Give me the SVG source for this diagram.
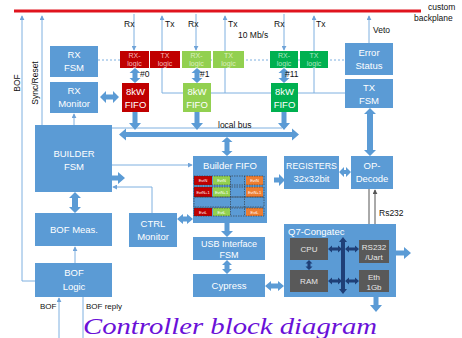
<svg xmlns="http://www.w3.org/2000/svg" width="462" height="338" viewBox="0 0 462 338">
<defs>
<marker id="ah" viewBox="0 0 6 6" refX="5" refY="3" markerWidth="5" markerHeight="5" orient="auto"><path d="M0,0 L6,3 L0,6 z" fill="#6fa3d8"/></marker>
<marker id="ag" viewBox="0 0 6 6" refX="5" refY="3" markerWidth="5" markerHeight="5" orient="auto"><path d="M0,0 L6,3 L0,6 z" fill="#555"/></marker>
</defs>
<style>
.b{fill:#5b9bd5}
.r{fill:#c00000}
.lg{fill:#92d050}
.dg{fill:#00b050}
.or{fill:#ed7d31}
.dk{fill:#595959}
.fat{fill:#5b9bd5}
.nav{fill:#1f3f77}
.t{font-family:"Liberation Sans",Arial,sans-serif;font-size:9.5px;fill:#fff;text-anchor:middle}
.s{font-family:"Liberation Sans",Arial,sans-serif;font-size:7px;fill:#ffd8d8;text-anchor:middle;opacity:.85}
.k{font-family:"Liberation Sans",Arial,sans-serif;font-size:8.5px;fill:#111}
.q{font-family:"Liberation Sans",Arial,sans-serif;font-size:8px;fill:#e8e8e8;text-anchor:middle}
.c{font-family:"Liberation Sans",Arial,sans-serif;font-size:4px;fill:#fff;text-anchor:middle}
.ln{stroke:#7fb0e0;stroke-width:1;fill:none}
.lna{stroke:#7fb0e0;stroke-width:1;fill:none;marker-end:url(#ah)}
.dash{stroke:#333;stroke-width:.6;stroke-dasharray:1.5,1;fill:none}
</style>
<rect width="462" height="338" fill="#fff"/>
<g id="backplane">
<line x1="14" y1="11" x2="421" y2="11" stroke="#e0141e" stroke-width="3"/>
<text class="k" x="428" y="10">custom</text>
<text class="k" x="414" y="21">backplane</text>
</g>
<g id="connectors">
<path class="lna" d="M36,281 H22 V16"/>
<path class="lna" d="M42,125 V16"/>
<path class="lna" d="M134,14 V50"/>
<path class="lna" d="M196,14 V50"/>
<path class="lna" d="M284,14 V50"/>
<path class="lna" d="M162,93 V16"/>
<path class="lna" d="M225,93 V16"/>
<path class="lna" d="M314,93 V16"/>
<path class="ln" d="M162,93 H345"/>
<path class="lna" d="M369,43 V16"/>
<path d="M98,60 H345" stroke="#7fb0e0" stroke-width="1" stroke-dasharray="2,2" fill="none"/>
<path class="ln" d="M112,128 H282"/>
<path class="lna" d="M112,165 H192"/>
<path class="lna" d="M152,213 V187 H113"/>
<path class="lna" d="M74,125 V114"/>
<path class="lna" d="M75,263 V247"/>
<path class="lna" d="M59,338 V298"/>
<path class="ln" d="M83,297 V338"/>
<path d="M369,189 V239" stroke="#555" stroke-width="1" fill="none" marker-end="url(#ag)"/>
<path d="M375,240 V190" stroke="#555" stroke-width="1" fill="none" marker-end="url(#ag)"/>
<polygon class="fat" points="100,97 106,91 106,94.5 113,94.5 113,91 119,97 113,103 113,99.5 106,99.5 106,103"/>
<polygon class="fat" points="135,68 140.5,73 137.5,73 137.5,78 140.5,78 135,83 129.5,78 132.5,78 132.5,73 129.5,73"/>
<polygon class="fat" points="197,68 202.5,73 199.5,73 199.5,78 202.5,78 197,83 191.5,78 194.5,78 194.5,73 191.5,73"/>
<polygon class="fat" points="284,68 289.5,73 286.5,73 286.5,78 289.5,78 284,83 278.5,78 281.5,78 281.5,73 278.5,73"/>
<polygon class="fat" points="132.5,112 137.5,112 137.5,123 141,123 135,130 129,123 132.5,123"/>
<polygon class="fat" points="194.5,112 199.5,112 199.5,123 203,123 197,130 191,123 194.5,123"/>
<polygon class="fat" points="281.5,112 286.5,112 286.5,123 290,123 284,130 278,123 281.5,123"/>
<polygon class="fat" points="119,134.5 126,128.5 126,132 292,132 292,128.5 299,134.5 292,140.5 292,137 126,137 126,140.5"/>
<polygon class="fat" points="227,137 232.5,142 229.5,142 229.5,151 232.5,151 227,156 221.5,151 224.5,151 224.5,142 221.5,142"/>
<polygon class="fat" points="370,108 376,114 373,114 373,150 376,150 370,156 364,150 367,150 367,114 364,114"/>
<polygon class="fat" points="75,192 81,198 78,198 78,207 81,207 75,213 69,207 72,207 72,198 69,198"/>
<polygon class="fat" points="112,175.5 118,175.5 118,172 125,178 118,184 118,180.5 112,180.5"/>
<polygon class="fat" points="274,177.5 279,177.5 279,174 285,180 279,186 279,182.5 274,182.5"/>
<polygon class="fat" points="339,172 344,167 344,170 346,170 346,167 351,172 346,177 346,174 344,174 344,177"/>
<polygon class="fat" points="177,219 183,214 183,216.5 187,216.5 187,214 193,219 187,224 187,221.5 183,221.5 183,224"/>
<polygon class="fat" points="224.5,222 229.5,222 229.5,231 233,231 227,237 221,231 224.5,231"/>
<polygon class="fat" points="227,260 232,265 229.5,265 229.5,269 232,269 227,274 222,269 224.5,269 224.5,265 222,265"/>
<polygon class="fat" points="265,286 271,281 271,283.5 278,283.5 278,281 284,286 278,291 278,288.5 271,288.5 271,291"/>
<polygon class="fat" points="389,250.5 404,250.5 404,247 411,253 404,259 404,255.5 389,255.5"/>
<polygon class="fat" points="373.5,292 378.5,292 378.5,305 382,305 376,312 370,305 373.5,305"/>
</g>
<g id="rx-fsm"><rect class="b" x="50" y="46" width="48" height="31"/><text class="t" x="74" y="58">RX</text><text class="t" x="74" y="71">FSM</text></g>
<g id="rx-monitor"><rect class="b" x="50" y="82" width="48" height="31"/><text class="t" x="74" y="94">RX</text><text class="t" x="74" y="107">Monitor</text></g>
<g id="logic0">
<rect class="r" x="120" y="51" width="29" height="17"/><text class="s" x="134.5" y="58">RX-</text><text class="s" x="134.5" y="66">logic</text>
<rect class="r" x="150" y="51" width="30" height="17"/><text class="s" x="165" y="58">TX</text><text class="s" x="165" y="66">logic</text>
<text class="k" x="140" y="77">#0</text>
</g>
<g id="logic1">
<rect class="lg" x="182" y="51" width="29" height="17"/><text class="s" x="196.5" y="58" style="fill:#e6f5d0">RX-</text><text class="s" x="196.5" y="66" style="fill:#e6f5d0">logic</text>
<rect class="lg" x="213" y="51" width="31" height="17"/><text class="s" x="228.5" y="58" style="fill:#e6f5d0">TX</text><text class="s" x="228.5" y="66" style="fill:#e6f5d0">logic</text>
<text class="k" x="200" y="77">#1</text>
</g>
<g id="logic11">
<rect class="dg" x="270" y="51" width="28" height="17"/><text class="s" x="284" y="58" style="fill:#c8f0d6">RX-</text><text class="s" x="284" y="66" style="fill:#c8f0d6">logic</text>
<rect class="dg" x="300" y="51" width="28" height="17"/><text class="s" x="314" y="58" style="fill:#c8f0d6">TX</text><text class="s" x="314" y="66" style="fill:#c8f0d6">logic</text>
<text class="k" x="285" y="77">#11</text>
</g>
<g id="fifo0"><rect class="r" x="122" y="83" width="27" height="29"/><text class="t" x="135.5" y="95">8kW</text><text class="t" x="135.5" y="108">FIFO</text></g>
<g id="fifo1"><rect class="lg" x="183" y="83" width="28" height="29"/><text class="t" x="197" y="95">8kW</text><text class="t" x="197" y="108">FIFO</text></g>
<g id="fifo11"><rect class="dg" x="271" y="83" width="27" height="29"/><text class="t" x="284.5" y="95">8kW</text><text class="t" x="284.5" y="108">FIFO</text></g>
<g id="labels">
<text class="k" x="124" y="27">Rx</text><text class="k" x="165" y="27">Tx</text>
<text class="k" x="188" y="27">Rx</text><text class="k" x="228" y="27">Tx</text>
<text class="k" x="274" y="27">Rx</text><text class="k" x="316" y="27">Tx</text>
<text class="k" x="373" y="33">Veto</text>
<text class="k" x="238" y="38">10 Mb/s</text>
<text class="k" x="218" y="128">local bus</text>
<text class="k" x="379" y="216">Rs232</text>
<text class="k" x="40" y="309" style="font-size:8px">BOF</text>
<text class="k" x="86" y="309" style="font-size:8px">BOF reply</text>
<text class="k" transform="translate(20,83) rotate(-90)" text-anchor="middle">BOF</text>
<text class="k" transform="translate(38,83) rotate(-90)" text-anchor="middle">Sync/Reset</text>
</g>
<g id="error-status"><rect class="b" x="345" y="43" width="48" height="32"/><text class="t" x="369" y="56">Error</text><text class="t" x="369" y="69">Status</text></g>
<g id="tx-fsm"><rect class="b" x="345" y="79" width="48" height="29"/><text class="t" x="369" y="91">TX</text><text class="t" x="369" y="104">FSM</text></g>
<g id="builder-fsm"><rect class="b" x="35" y="125" width="77" height="67"/><text class="t" x="74" y="157">BUILDER</text><text class="t" x="74" y="170">FSM</text></g>
<g id="builder-fifo">
<rect class="b" x="193" y="156" width="74" height="67"/>
<text class="t" x="230" y="169">Builder FIFO</text>
<rect class="r" x="194" y="176" width="18" height="9"/><rect class="lg" x="213" y="176" width="17" height="9"/><rect class="or" x="246" y="176" width="17" height="9"/>
<rect class="r" x="194" y="187" width="18" height="10"/><rect class="lg" x="213" y="187" width="17" height="10"/><rect class="or" x="246" y="187" width="17" height="10"/>
<rect class="r" x="194" y="208" width="18" height="8"/><rect class="lg" x="213" y="208" width="17" height="8"/><rect class="or" x="246" y="208" width="17" height="8"/>
<rect class="dash" x="194" y="176" width="70" height="9"/><rect class="dash" x="194" y="187" width="70" height="10"/><rect class="dash" x="194" y="197" width="70" height="10"/><rect class="dash" x="194" y="208" width="70" height="8"/>
<line class="dash" x1="230.5" y1="176" x2="230.5" y2="216"/><line class="dash" x1="244.5" y1="176" x2="244.5" y2="216"/>
<text class="c" x="203" y="182">EvtN</text><text class="c" x="221.5" y="182">EvtN</text><text class="c" x="254.5" y="182">EvtN</text>
<text class="c" x="203" y="193.5">EvtN+1</text><text class="c" x="221.5" y="193.5">EvtN+1</text><text class="c" x="254.5" y="193.5">EvtN+1</text>
<text class="c" x="203" y="213.5">EvtL</text><text class="c" x="221.5" y="213.5">EvtL</text><text class="c" x="254.5" y="213.5">EvtL</text>
</g>
<g id="registers"><rect class="b" x="284" y="156" width="55" height="33"/><text class="t" x="311.5" y="169" style="font-size:8.8px">REGISTERS</text><text class="t" x="311.5" y="182">32x32bit</text></g>
<g id="op-decode"><rect class="b" x="351" y="156" width="42" height="33"/><text class="t" x="372" y="169">OP-</text><text class="t" x="372" y="182">Decode</text></g>
<g id="bof-meas"><rect class="b" x="35" y="213" width="77" height="33"/><text class="t" x="74" y="233">BOF Meas.</text></g>
<g id="ctrl-monitor"><rect class="b" x="129" y="213" width="48" height="34"/><text class="t" x="153" y="227">CTRL</text><text class="t" x="153" y="240">Monitor</text></g>
<g id="bof-logic"><rect class="b" x="35" y="263" width="77" height="34"/><text class="t" x="74" y="276">BOF</text><text class="t" x="74" y="290">Logic</text></g>
<g id="usb-fsm"><rect class="b" x="193" y="237" width="72" height="23"/><text class="t" x="229" y="246.5" style="font-size:9px">USB Interface</text><text class="t" x="229" y="257.5" style="font-size:9px">FSM</text></g>
<g id="cypress"><rect class="b" x="193" y="274" width="72" height="23"/><text class="t" x="229" y="289">Cypress</text></g>
<g id="q7">
<rect class="b" x="284" y="224" width="112" height="73"/>
<text class="t" x="288" y="235" style="text-anchor:start">Q7-Congatec</text>
<rect class="dk" x="290" y="238" width="38" height="22"/><text class="q" x="309" y="252">CPU</text>
<rect class="dk" x="290" y="270" width="38" height="22"/><text class="q" x="309" y="284">RAM</text>
<rect class="dk" x="359" y="240" width="30" height="23"/><text class="q" x="374" y="250">RS232</text><text class="q" x="374" y="260">/Uart</text>
<rect class="dk" x="359" y="270" width="30" height="22"/><text class="q" x="374" y="280">Eth</text><text class="q" x="374" y="290">1Gb</text>
<polygon class="nav" points="343,237 347,242 345,242 345,289 347,289 343,294 339,289 341,289 341,242 339,242"/>
<polygon class="nav" points="328,249 332,245.5 332,247.5 338,247.5 338,245.5 342,249 338,252.5 338,250.5 332,250.5 332,252.5"/>
<polygon class="nav" points="345,249 349,245.5 349,247.5 355,247.5 355,245.5 359,249 355,252.5 355,250.5 349,250.5 349,252.5"/>
<polygon class="nav" points="328,281 332,277.5 332,279.5 338,279.5 338,277.5 342,281 338,284.5 338,282.5 332,282.5 332,284.5"/>
<polygon class="nav" points="345,281 349,277.5 349,279.5 355,279.5 355,277.5 359,281 355,284.5 355,282.5 349,282.5 349,284.5"/>
<polygon class="nav" points="309,260 312.5,263.5 310.5,263.5 310.5,266.5 312.5,266.5 309,270 305.5,266.5 307.5,266.5 307.5,263.5 305.5,263.5"/>
</g>
<text x="230" y="334" text-anchor="middle" font-family="'Liberation Serif','Times New Roman',serif" font-style="italic" font-size="24" fill="#6a10d8" textLength="294" lengthAdjust="spacingAndGlyphs">Controller block diagram</text>
</svg>
